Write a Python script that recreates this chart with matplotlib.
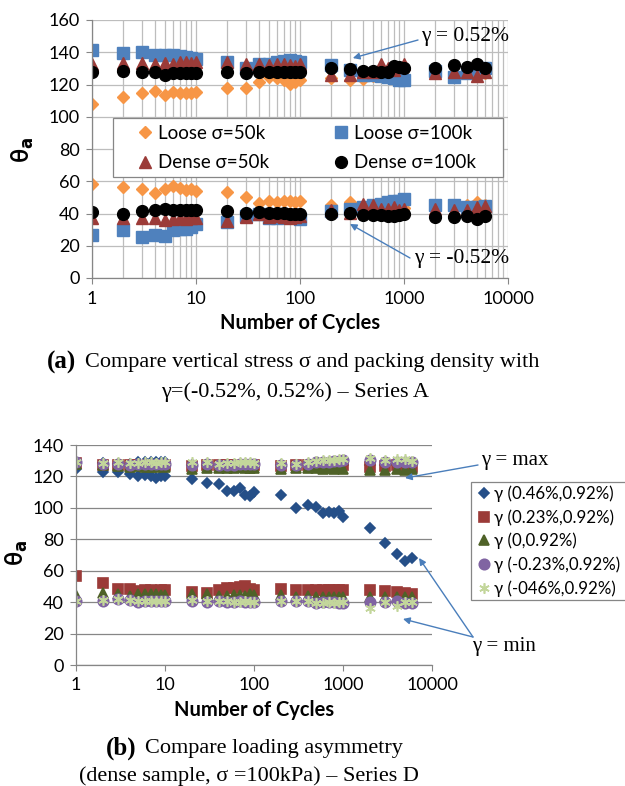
import matplotlib
matplotlib.use("Agg")
import matplotlib.pyplot as plt
from matplotlib.ticker import FuncFormatter, NullFormatter, LogLocator
from matplotlib.patches import Rectangle

# cycle numbers shared by every series
cycles = [1, 2, 3, 4, 5, 6, 7, 8, 9, 10, 20, 30, 40, 50, 60, 70, 80, 90, 100,
          200, 300, 400, 500, 600, 700, 800, 900, 1000, 2000, 3000, 4000, 5000, 6000]

# (a) series A, upper branch (gamma = 0.52%) and lower branch (gamma = -0.52%)
loose50_hi = [108, 112, 114.5, 116, 113.5, 115.5, 115, 115, 115, 115.5,
              118, 118, 121.5, 124.5, 124, 123, 120.5, 121.5, 122.5,
              124, 122.5, 123.5, 125, 125, 125.5, 126, 126, 125,
              127, 127, 127, 128, 127]
loose50_lo = [58.5, 56.5, 55.5, 53, 55, 57, 56, 54.5, 55.5, 54,
              53.5, 50.5, 46.5, 48, 47, 48, 48, 47, 48,
              45, 47, 44.5, 43.5, 43, 43, 42.5, 43, 43.5,
              44, 44, 45, 47, 45]
loose100_hi = [141.5, 139.5, 140, 138, 138, 138, 137.5, 137, 136.5, 136,
               134, 130, 132.5, 133, 134, 134.5, 135.5, 134.5, 134,
               132, 129, 126, 126, 125, 124.5, 124, 123, 122.5,
               128.5, 124.5, 127, 128, 130]
loose100_lo = [26.5, 29.5, 25.5, 26.5, 26, 29.5, 30.5, 30.5, 31.5, 33.5,
               35, 38.5, 40, 37, 37, 38.5, 38.5, 38, 36.5,
               41.5, 42.5, 44, 45.5, 46, 47, 47.5, 48, 49,
               45, 45, 44, 44, 44.5]
dense50_hi = [133, 133.5, 133.5, 133, 133.5, 132.5, 134, 134, 133.5, 134,
              134, 132.5, 133, 132, 132.5, 132.5, 132, 131.5, 132.5,
              126, 126, 127.5, 128, 133, 130, 129, 131, 133,
              127, 128, 128, 125.5, 127.5]
dense50_lo = [37.5, 37.5, 37.5, 37, 36, 36.5, 37, 36.5, 37, 37,
              35.5, 38, 40, 38, 38.5, 38, 37.5, 38, 38.5,
              42, 40.5, 46, 45, 43, 43, 44, 42, 43,
              42.5, 42, 42, 44, 44.5]
dense100_hi = [127.5, 128.5, 127.5, 127.5, 126, 127, 127, 127, 127, 127,
               127.5, 127, 127.5, 127.5, 128, 127.5, 128, 127.5, 128,
               130.5, 129.5, 128.5, 128.5, 128, 128, 131.5, 131, 130,
               130.5, 132, 131, 133, 130.5]
dense100_lo = [41, 40, 41.5, 42, 42.5, 42, 42, 42, 42, 42,
               41.5, 40.5, 41, 40.5, 40.5, 40.5, 40, 40, 40,
               39.5, 40.5, 39, 39, 39, 38.5, 38.5, 39, 39.5,
               38, 38, 38.5, 36.5, 38.5]
labels_a = ["Loose σ=50k", "Loose σ=100k", "Dense σ=50k", "Dense σ=100k"]

# (b) series D, gamma max branch and gamma min branch
g046_hi = [128, 128.5, 128, 128, 129.5, 129.5, 129, 129.5, 129.5, 129.5,
           127.5, 127.5, 127.5, 127.5, 127.5, 127.5, 127.5, 127.5, 127.5,
           127.5, 127.5, 127.5, 127.5, 127.5, 127.5, 127.5, 127.5, 127.5,
           127, 127, 127, 127, 127]
g046_lo = [125, 123, 123, 121.5, 120, 121, 120, 119, 120, 120,
           118.5, 116, 115.5, 111, 111, 112.5, 108.5, 107.5, 110,
           108.5, 100, 102, 100.5, 96.5, 97.5, 96.5, 98, 94,
           87.5, 77.5, 70.5, 66, 68]
g023_hi = [128.5, 127.5, 127.5, 127, 127, 127, 127, 127, 127, 127,
           126.5, 127, 127, 127, 127, 127, 127, 127, 127,
           126.5, 127, 127, 127, 127, 127, 127.5, 127.5, 127,
           126, 126.5, 127, 126.5, 126]
g023_lo = [56.5, 52.5, 48.5, 48.5, 47, 48, 47.5, 47, 47.5, 47.5,
           46.5, 46, 48, 49, 49, 49.5, 50, 48.5, 48,
           48.5, 47.5, 48, 48, 47.5, 47.5, 48, 48, 47.5,
           48, 47, 46.5, 46, 45]
g0_hi = [128, 127, 126.5, 126, 126.5, 126, 126, 126, 126.5, 126,
         125, 125.5, 125.5, 125.5, 125.5, 126, 125.5, 125.5, 125.5,
         125, 125.5, 125.5, 125.5, 125, 125.5, 125, 125.5, 125,
         124, 124, 125, 124, 124.5]
g0_lo = [44.5, 46, 45.5, 44, 45.5, 45, 45, 45, 44.5, 44.5,
         45, 45, 44, 44, 44.5, 44.5, 44, 45, 44.5,
         44.5, 43.5, 44, 43.5, 43.5, 43, 43.5, 43, 43,
         43, 43, 43.5, 43, 43.5]
gm023_hi = [129, 128, 128, 127.5, 128, 128, 128, 128, 128, 128,
            127.5, 128, 127.5, 127.5, 127.5, 128, 128, 128, 128,
            127.5, 127.5, 128, 129, 129, 129.5, 130, 130, 130.5,
            130.5, 129.5, 129.5, 129.5, 129.5]
gm023_lo = [41, 41, 42, 41.5, 40, 41, 41, 40.5, 40.5, 40.5,
            41, 40, 40.5, 40, 40, 40.5, 40, 40, 40,
            41, 41, 40.5, 39.5, 40, 40, 40, 39.5, 39.5,
            40, 40, 40.5, 39.5, 39.5]
gm046_hi = [129.5, 128.5, 129, 128.5, 128.5, 129, 129, 128.5, 129, 129,
            129, 129.5, 128, 128.5, 128.5, 129, 129, 129, 128.5,
            128.5, 128, 129, 130, 130.5, 130.5, 130.5, 131, 131,
            131.5, 130.5, 131, 131, 130]
gm046_lo = [41, 41.5, 42, 41.5, 40.5, 41, 41, 40.5, 41, 41,
            41.5, 41, 41, 41, 40, 40, 40.5, 40, 40,
            41, 41, 41, 39.5, 39.5, 40, 39.5, 40, 40,
            36.5, 40, 37.5, 40, 40]
labels_b = ["γ (0.46%,0.92%)", "γ (0.23%,0.92%)", "γ (0,0.92%)",
            "γ (-0.23%,0.92%)", "γ (-046%,0.92%)"]

SANS = ["Lato", "DejaVu Sans"]
SERIF = ["Liberation Serif", "DejaVu Serif"]
plt.rcParams["font.family"] = SANS
GRID = "#BDBDBD"
AXC = "#868686"
ARROW = "#4A7EBB"

W, H = 625, 786
fig = plt.figure(figsize=(W / 100, H / 100), dpi=100)


def fx(px):
    return px / W


def fy(py):
    return 1 - py / H


def style_axis(ax, ymax):
    ax.set_xscale("log")
    ax.set_xlim(1, 10000)
    ax.set_ylim(0, ymax)
    ax.set_yticks(range(0, ymax + 1, 20))
    ax.xaxis.set_major_locator(LogLocator(base=10))
    ax.xaxis.set_major_formatter(FuncFormatter(lambda v, p: f"{v:g}"))
    ax.xaxis.set_minor_formatter(NullFormatter())
    for s in ["top", "right"]:
        ax.spines[s].set_visible(False)
    for s in ["left", "bottom"]:
        ax.spines[s].set_color(AXC)
        ax.spines[s].set_linewidth(0.9)
    ax.tick_params(which="major", direction="out", length=4, color=AXC,
                   labelsize=13, pad=5)
    ax.tick_params(which="minor", length=0)
    ax.set_axisbelow(True)
    ax.set_xlabel("Number of Cycles", fontsize=14.5, fontweight="bold", labelpad=5)


# ---------------- (a) ----------------
ax1 = fig.add_axes([fx(92), fy(278), fx(416), 258 / H])
style_axis(ax1, 160)
ax1.grid(True, which="both", axis="x", color=GRID, lw=0.9)
ax1.grid(True, which="major", axis="y", color=GRID, lw=0.9)

styles_a = [("D", "#F79646", 6.3), ("s", "#4F81BD", 9), ("^", "#9B3B38", 8.5), ("o", "#000000", 8.5)]
data_a = [(loose50_hi, loose50_lo), (loose100_hi, loose100_lo),
          (dense50_hi, dense50_lo), (dense100_hi, dense100_lo)]
handles_a = []
for (m, c, ms), (hi, lo), lab in zip(styles_a, data_a, labels_a):
    h, = ax1.plot(cycles, hi, ls="none", marker=m, color=c, mec=c, ms=ms, label=lab)
    ax1.plot(cycles, lo, ls="none", marker=m, color=c, mec=c, ms=ms)
    handles_a.append(h)

ax1.text(fx(23), fy(150), "θ$_\\mathbf{a}$", transform=fig.transFigure, rotation=90,
         fontsize=17, fontweight="bold", ha="center", va="center")

fig.patches.append(Rectangle((fx(113), fy(177)), fx(390), 59 / H, transform=fig.transFigure,
                             facecolor="white", edgecolor=AXC, lw=0.9, zorder=5))
leg1 = fig.legend([handles_a[0], handles_a[2], handles_a[1], handles_a[3]],
                  [labels_a[0], labels_a[2], labels_a[1], labels_a[3]],
                  ncol=2, loc="center left", bbox_to_anchor=(fx(136), fy(148)),
                  frameon=False, fontsize=13.5, handlelength=0.95, handletextpad=0.2,
                  columnspacing=3.4, borderpad=0, borderaxespad=0, labelspacing=0.65)
leg1.set_zorder(6)

# ---------------- (b) ----------------
ax2 = fig.add_axes([fx(76), fy(665), fx(356), 220 / H])
style_axis(ax2, 140)
ax2.grid(True, which="major", axis="y", color=AXC, lw=0.9)

styles_b = [("D", "#254F88", 5.2), ("s", "#9B3B38", 7.5), ("^", "#4F6228", 7),
            ("o", "#8064A2", 7.5), ((6, 2, 0), "#C3D69B", 7.5)]
data_b = [(g046_hi, g046_lo), (g023_hi, g023_lo), (g0_hi, g0_lo),
          (gm023_hi, gm023_lo), (gm046_hi, gm046_lo)]
handles_b = []
for (m, c, ms), (hi, lo), lab in zip(styles_b, data_b, labels_b):
    h, = ax2.plot(cycles, hi, ls="none", marker=m, color=c, mec=c, ms=ms, mew=1.2, label=lab)
    ax2.plot(cycles, lo, ls="none", marker=m, color=c, mec=c, ms=ms, mew=1.2)
    handles_b.append(h)

ax2.text(fx(17), fy(553), "θ$_\\mathbf{a}$", transform=fig.transFigure, rotation=90,
         fontsize=17, fontweight="bold", ha="center", va="center")

fig.patches.append(Rectangle((fx(471), fy(600)), fx(160), 118 / H, transform=fig.transFigure,
                             facecolor="white", edgecolor=AXC, lw=0.9, zorder=5))
leg2 = fig.legend(handles_b, labels_b, loc="center left", bbox_to_anchor=(fx(477), fy(541)),
                  frameon=False, fontsize=12.2, handlelength=0.8, handletextpad=0.2,
                  borderpad=0, borderaxespad=0, labelspacing=0.42)
leg2.set_zorder(6)

# ---------------- annotations ----------------
def arrow(ax, tip, tail_px):
    ax.annotate("", xy=tip, xycoords="data",
                xytext=(fx(tail_px[0]), fy(tail_px[1])), textcoords="figure fraction",
                arrowprops=dict(arrowstyle="-|>", color=ARROW, lw=1.0,
                                mutation_scale=10, shrinkA=0, shrinkB=0))


arrow(ax1, (322, 136.4), (418, 40))
arrow(ax1, (302, 33.5), (410, 258))
fig.text(fx(421), fy(37), "γ = 0.52%", family=SERIF, fontsize=15.5, ha="left", va="center")
fig.text(fx(414), fy(258), "γ = -0.52%", family=SERIF, fontsize=15.5, ha="left", va="center")

arrow(ax2, (4977, 119), (478, 465))
arrow(ax2, (4721, 29.3), (473, 637))
arrow(ax2, (7145, 68.1), (473, 637))
fig.text(fx(481), fy(461), "γ = max", family=SERIF, fontsize=15, ha="left", va="center")
fig.text(fx(472), fy(647), "γ = min", family=SERIF, fontsize=15, ha="left", va="center")

# ---------------- captions ----------------
fig.text(fx(47), fy(362), "(a)", family=SERIF, fontsize=18, fontweight="bold", ha="left", va="center")
fig.text(fx(85), fy(362), "Compare vertical stress σ and packing density with",
         family=SERIF, fontsize=16, ha="left", va="center")
fig.text(fx(295), fy(392), "γ=(-0.52%, 0.52%) – Series A",
         family=SERIF, fontsize=16, ha="center", va="center")
fig.text(fx(106), fy(748), "(b)", family=SERIF, fontsize=18, fontweight="bold", ha="left", va="center")
fig.text(fx(145), fy(748), "Compare loading asymmetry",
         family=SERIF, fontsize=16, ha="left", va="center")
fig.text(fx(249), fy(776), "(dense sample, σ =100kPa) – Series D",
         family=SERIF, fontsize=16, ha="center", va="center")

fig.savefig("out.png", dpi=100)
